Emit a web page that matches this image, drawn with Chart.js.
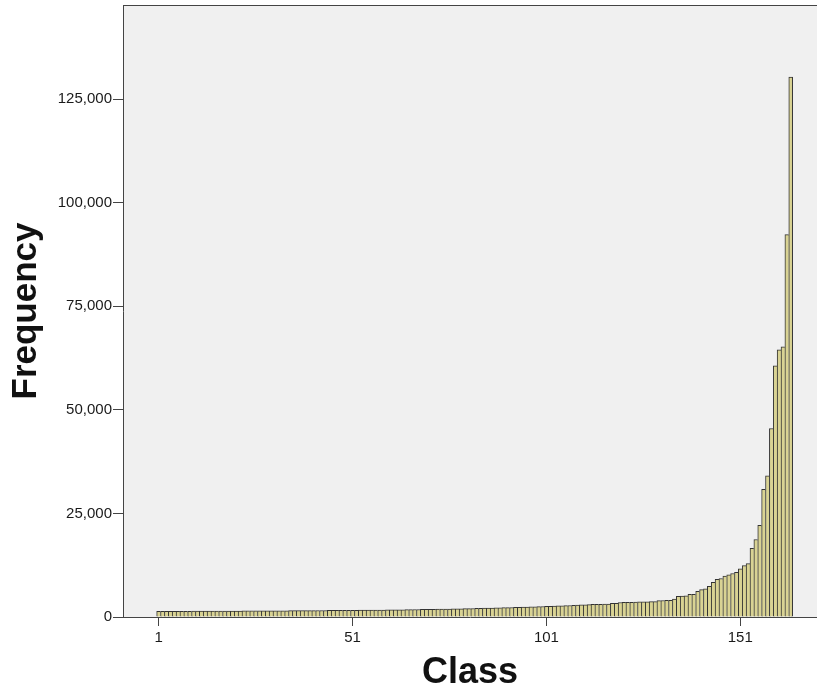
<!DOCTYPE html>
<html>
<head>
<meta charset="utf-8">
<script src="https://cdn.jsdelivr.net/npm/chart.js@4"></script>
<style>
  html, body { margin: 0; padding: 0; background: #ffffff; }
  canvas { display: block; }
</style>
</head>
<body>
<canvas id="chart" width="817" height="692"></canvas>
<script>
// class numbers 1..164 (one bar each)
const classes = Array.from({ length: 164 }, (_, i) => i + 1);

// frequency per class
const frequencies = [
  1350, 1360, 1360, 1370, 1370, 1380, 1380, 1390, 1390, 1400,
  1400, 1410, 1410, 1410, 1420, 1420, 1430, 1430, 1440, 1440,
  1450, 1450, 1460, 1460, 1470, 1470, 1480, 1480, 1490, 1490,
  1500, 1500, 1510, 1510, 1520, 1520, 1530, 1530, 1540, 1550,
  1550, 1560, 1560, 1570, 1580, 1580, 1590, 1600, 1600, 1610,
  1620, 1630, 1640, 1650, 1660, 1670, 1680, 1690, 1700, 1710,
  1720, 1730, 1740, 1760, 1770, 1780, 1800, 1810, 1830, 1840,
  1860, 1870, 1890, 1900, 1920, 1940, 1960, 1980, 2000, 2020,
  2040, 2060, 2080, 2100, 2130, 2150, 2170, 2200, 2220, 2250,
  2280, 2300, 2330, 2360, 2390, 2420, 2450, 2480, 2510, 2540,
  2570, 2600, 2640, 2680, 2720, 2750, 2780, 2830, 2870, 2910,
  2960, 3000, 3040, 3060, 3080, 3100, 3120, 3300, 3320, 3500,
  3520, 3540, 3560, 3580, 3640, 3660, 3680, 3700, 3720, 3950,
  3980, 4000, 4030, 4340, 5000, 5060, 5100, 5450, 5500, 6200,
  6600, 6800, 7400, 8370, 9100, 9300, 9900, 10200, 10500, 10800,
  11650, 12400, 12900, 16600, 18700, 22100, 30800, 34100, 45500, 60600,
  64500, 65200, 92300, 130300
];

const xTickValues = [1, 51, 101, 151];
const yTickValues = [0, 25000, 50000, 75000, 100000, 125000];

const AXIS = '#444444';
const FONT = 'Liberation Sans, Arial, sans-serif';

// grey plot box with a frame line along the top
const plotBox = {
  id: 'plotBox',
  beforeDraw(chart) {
    const { ctx, chartArea: a } = chart;
    ctx.save();
    ctx.fillStyle = '#f0f0f0';
    ctx.fillRect(a.left, a.top, a.right - a.left, a.bottom - a.top);
    ctx.restore();
  },
  afterDraw(chart) {
    const { ctx, chartArea: a } = chart;
    ctx.save();
    ctx.strokeStyle = AXIS;
    ctx.lineWidth = 1;
    ctx.beginPath();
    ctx.moveTo(a.left, a.top + 0.5);
    ctx.lineTo(a.right, a.top + 0.5);
    ctx.stroke();
    ctx.restore();
  }
};

new Chart(document.getElementById('chart'), {
  type: 'bar',
  data: {
    datasets: [{
      data: classes.map((c, i) => ({ x: c, y: frequencies[i] })),
      backgroundColor: '#d9d393',
      borderColor: '#333333',
      // bars touch, so only draw left + top edges (plus the right edge of the last bar)
      borderWidth: (ctx) => ({
        top: 1, left: 1, bottom: 0,
        right: ctx.dataIndex === classes.length - 1 ? 1 : 0
      }),
      borderSkipped: false,
      barPercentage: 1,
      categoryPercentage: 1
    }]
  },
  options: {
    responsive: false,
    animation: false,
    layout: { padding: { top: 5, right: 0, bottom: 0, left: 0 } },
    plugins: {
      legend: { display: false },
      tooltip: { enabled: false }
    },
    scales: {
      x: {
        type: 'linear',
        min: -8.18,
        max: 170.78,
        offset: false,
        afterBuildTicks: (scale) => { scale.ticks = xTickValues.map(v => ({ value: v })); },
        afterFit: (scale) => { scale.height = 75; scale.paddingLeft = 0; scale.paddingRight = 0; },
        grid: { display: true, offset: false, drawOnChartArea: false, drawTicks: true, tickLength: 9, color: AXIS },
        border: { display: true, color: AXIS, width: 1 },
        ticks: {
          autoSkip: false,
          maxRotation: 0,
          padding: 3,
          color: '#1a1a1a',
          font: { family: FONT, size: 15 },
          callback: (v) => String(v)
        },
        title: {
          display: true,
          text: 'Class',
          color: '#111111',
          font: { family: FONT, size: 36, weight: 'bold', lineHeight: 1 },
          padding: { top: 0, bottom: 1 }
        }
      },
      y: {
        min: 0,
        max: 147700,
        afterBuildTicks: (scale) => { scale.ticks = yTickValues.map(v => ({ value: v })); },
        afterFit: (scale) => { scale.width = 123; scale.paddingTop = 0; scale.paddingBottom = 0; },
        grid: { display: true, drawOnChartArea: false, drawTicks: true, tickLength: 10, color: AXIS },
        border: { display: true, color: AXIS, width: 1 },
        ticks: {
          autoSkip: false,
          padding: 1,
          color: '#1a1a1a',
          font: { family: FONT, size: 15 },
          callback: (v) => Number(v).toLocaleString('en-US')
        },
        title: {
          display: true,
          text: 'Frequency',
          color: '#111111',
          font: { family: FONT, size: 35, weight: 'bold', lineHeight: 1 },
          padding: { top: 8.5, bottom: 0 }
        }
      }
    }
  },
  plugins: [plotBox]
});
</script>
</body>
</html>
